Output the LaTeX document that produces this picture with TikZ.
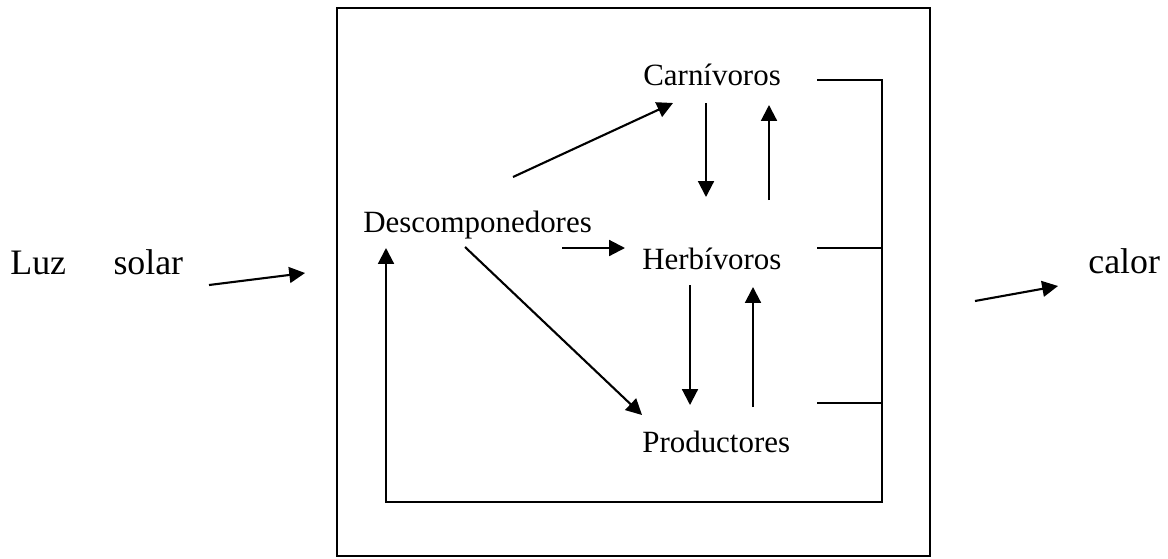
\documentclass[tikz,border=0pt]{standalone}
\usepackage{fontspec}
\setmainfont{Liberation Serif}
\usetikzlibrary{arrows.meta}
\tikzset{
	flecha/.style={line width=1.2pt,-{Triangle[length=9pt,width=9pt]}},
	linea/.style={line width=1.2pt},
	nivel/.style={anchor=base west,inner sep=0pt,font=\fontsize{17.6}{20}\selectfont},
	externo/.style={anchor=base west,inner sep=0pt,font=\fontsize{20.4}{24}\selectfont},
	caja/.style={draw,line width=1.2pt,inner sep=0pt,outer sep=0pt,minimum width=11.86cm,minimum height=10.96cm}
}
\begin{document}
\begin{tikzpicture}[x=0.02cm,y=-0.02cm]
	\useasboundingbox (0,0) rectangle (1168,558);
	\node[caja] (ecosistema) at (633.5,282) {};
	\node[externo] (luz) at (10,274) {Luz\hspace{27pt}solar};
	\node[externo] (calor) at (1088,273) {calor};
	\node[nivel] (desc) at (363,232) {Descomponedores};
	\node[nivel] (carn) at (643,85) {Carnívoros};
	\node[nivel] (herb) at (642,269.5) {Herbívoros};
	\node[nivel] (prod) at (642,452) {Productores};
	\coordinate (retorno) at (882,502);
	\draw[flecha] ([shift={(199,11)}]luz.base west) -- ([shift={(-32,-9)}]ecosistema.west);
	\draw[flecha] ([shift={(45,19)}]ecosistema.east) -- ([shift={(-30,13)}]calor.base west);
	\draw[flecha] ([shift={(150,-55)}]desc.base west) -- ([shift={(30,18)}]carn.base west);
	\draw[flecha] ([shift={(199,16)}]desc.base west) -- ([shift={(-17,-21.5)}]herb.base west);
	\draw[flecha] ([shift={(102,15)}]desc.base west) -- ([shift={(0,-37)}]prod.base west);
	\draw[flecha] ([shift={(63,18)}]carn.base west) -- ([shift={(64,-72.5)}]herb.base west);
	\draw[flecha] ([shift={(127,-69.5)}]herb.base west) -- ([shift={(126,20)}]carn.base west);
	\draw[flecha] ([shift={(48,15.5)}]herb.base west) -- ([shift={(48,-47)}]prod.base west);
	\draw[flecha] ([shift={(111,-45)}]prod.base west) -- ([shift={(111,17.5)}]herb.base west);
	\draw[flecha] ([shift={(174,-5)}]carn.base west) -| (retorno) -| ([shift={(23,16)}]desc.base west);
	\draw[linea] ([shift={(175,-21.5)}]herb.base west) -- ++(65,0);
	\draw[linea] ([shift={(175,-49)}]prod.base west) -- ++(65,0);
\end{tikzpicture}
\end{document}
